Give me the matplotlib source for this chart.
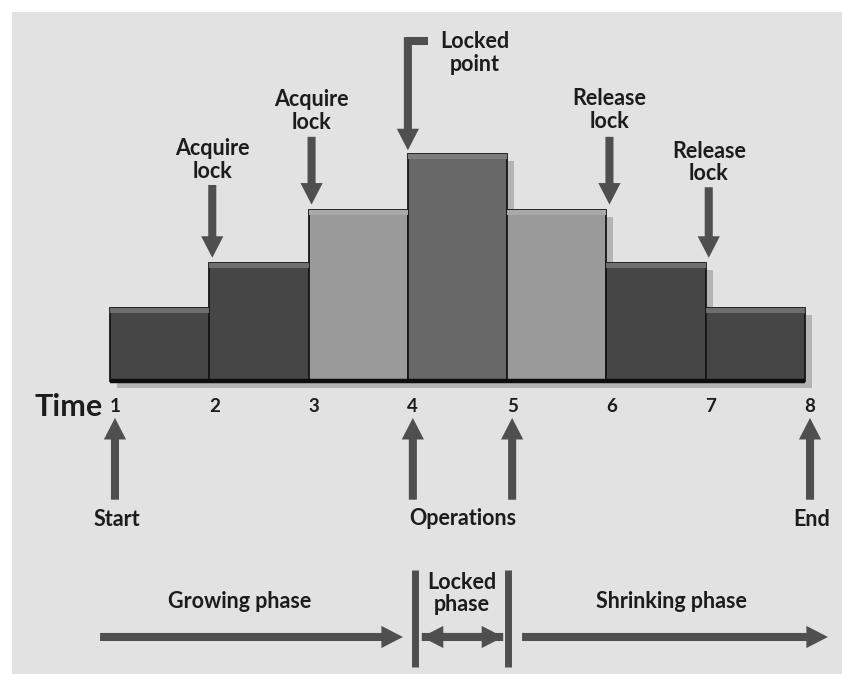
import matplotlib
matplotlib.use("Agg")
import matplotlib.pyplot as plt
from matplotlib.patches import FancyArrowPatch

# Dữ liệu: số khóa đang giữ theo thời gian (two-phase locking)
times = [1, 2, 3, 4, 5, 6, 7, 8]
tick_labels = ["1", "2", "3", "4", "5", "6", "7", "8"]
heights = [1.3, 2.1, 3.05, 4.05, 3.05, 2.1, 1.3]
bar_colors = ["#464646", "#464646", "#9a9a9a", "#686868", "#9a9a9a", "#464646", "#464646"]
top_colors = ["#6e6e6e", "#6e6e6e", "#a9a9a9", "#7c7c7c", "#a9a9a9", "#6e6e6e", "#6e6e6e"]

# Mũi tên phía trên: (thời điểm, nhãn, đỉnh đuôi, vị trí chữ)
top_events = [(2, "Acquire\nlock", 3.5, 3.95),
              (3, "Acquire\nlock", 4.36, 4.82),
              (6, "Release\nlock", 4.36, 4.84),
              (7, "Release\nlock", 3.46, 3.9)]
bottom_events = [(1, "Start"), (4, None), (5, None), (8, "End")]
ops_label = "Operations"
phases = ["Growing phase", "Locked\nphase", "Shrinking phase"]

DARK = "#4f4f4f"
TXT = "#1c1c1c"
BG = "#e2e2e2"
FONT = ["Lato", "DejaVu Sans"]
plt.rcParams["font.family"] = FONT

fig = plt.figure(figsize=(8.42, 6.74), dpi=100)
fig.patch.set_facecolor("white")
ax = fig.add_axes([12 / 842, 0, 830 / 842, 662 / 674])
ax.set_facecolor(BG)
ax.set_xlim(0.013, 8.372)
ax.set_ylim(-5.232, 6.589)
for s in ax.spines.values():
    s.set_visible(False)
ax.set_xticks([])
ax.set_yticks([])


def arrow(x0, y0, x1, y1, style="simple,head_length=1.55,head_width=1.6,tail_width=0.58"):
    p = FancyArrowPatch((x0, y0), (x1, y1), arrowstyle=style, mutation_scale=10,
                        color=DARK, lw=0, shrinkA=0, shrinkB=0, zorder=5)
    ax.add_patch(p)


lefts = times[:-1]
# bóng đổ
ax.bar([l + 0.07 for l in lefts], heights, width=1, align="edge", bottom=-0.12,
       color="#b4b4b4", zorder=1)
ax.bar(lefts, heights, width=1, align="edge", color=bar_colors,
       edgecolor="#161616", linewidth=1.3, zorder=2)
ax.bar(lefts, [0.08] * len(heights), width=1, align="edge",
       bottom=[h - 0.08 for h in heights], color=top_colors, zorder=3)
ax.plot([times[0], times[-1]], [0, 0], color="#0e0e0e", lw=3.2, zorder=4,
        solid_capstyle="butt")

# nhãn trục thời gian
for t, lab in zip(times, tick_labels):
    ax.text(t + 0.05, -0.55, lab, ha="center", va="baseline", fontsize=13.5,
            fontweight="bold", color=TXT)
ax.text(0.93, -0.62, "Time", ha="right", va="baseline", fontsize=22,
        fontweight="bold", color=TXT)

# mũi tên acquire / release: chỉ vào đỉnh cột cao hơn tại thời điểm đó
for t, lab, tail, ty in top_events:
    h = max(heights[t - 2], heights[t - 1])
    arrow(t + 0.03, tail, t + 0.03, h + 0.1)
    ax.text(t + 0.03, ty, lab, ha="center", va="center", fontsize=15.5,
            fontweight="bold", color=TXT, linespacing=1.1)

# locked point
peak = heights.index(max(heights)) + 1
ax.plot([peak - 0.02, peak + 0.2], [6.07, 6.07], color=DARK, lw=5.8,
        solid_capstyle="butt", zorder=5)
arrow(peak, 6.14, peak, max(heights) + 0.07)
ax.text(peak + 0.67, 5.86, "Locked\npoint", ha="center", va="center",
        fontsize=15.5, fontweight="bold", color=TXT, linespacing=1.1)

# mũi tên phía dưới
for t, lab in bottom_events:
    arrow(t + 0.05, -2.12, t + 0.05, -0.66)
    if lab:
        ax.text(t + 0.07, -2.48, lab, ha="center", va="center", fontsize=15.5,
                fontweight="bold", color=TXT)
ax.text(4.55, -2.45, ops_label, ha="center", va="center", fontsize=15.5,
        fontweight="bold", color=TXT)

# các pha
for t in (4.07, 5.01):
    ax.plot([t, t], [-3.375, -5.107], color=DARK, lw=5, solid_capstyle="butt")
arrow(0.9, -4.571, 3.95, -4.571)
arrow(4.96, -4.571, 4.14, -4.571)
arrow(4.14, -4.571, 4.96, -4.571)
arrow(5.15, -4.571, 8.23, -4.571)
ax.text(2.31, -3.93, phases[0], ha="center", va="center", fontsize=15.5,
        fontweight="bold", color=TXT)
ax.text(4.545, -3.79, phases[1], ha="center", va="center", fontsize=15.5,
        fontweight="bold", color=TXT, linespacing=1.05)
ax.text(6.65, -3.93, phases[2], ha="center", va="center", fontsize=15.5,
        fontweight="bold", color=TXT)

fig.savefig("out.png", dpi=100, facecolor=fig.get_facecolor())
